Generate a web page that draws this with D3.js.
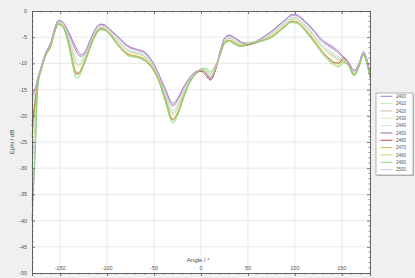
<!DOCTYPE html>
<html>
<head>
<meta charset="utf-8">
<script src="https://cdn.jsdelivr.net/npm/d3@7"></script>
<style>
  body { margin: 0; background: #f0f0f0; }
  svg { display: block; font-family: "Liberation Sans", Arial, sans-serif; }
</style>
</head>
<body>
<svg id="chart"></svg>
<script>
// angle samples (deg)
const angles = [-180,-177,-174,-170,-165,-160,-156,-152,-148,-144,-140,-136,-133,-130,-127,-123,-119,-115,-111,-107,
  -103,-97,-90,-76,-68,-60,-52,-45,-38,-30,-24,-18,-12,-6,0,5,10,15,20,25,
  30,36,42,50,66,74,90,96,100,105,112,120,128,135,142,147,152,157,163,168,173,177,180];

// Ephi (dB) per frequency
const e2400 = [-40,-28,-14.5,-10.5,-7.8,-6.0,-3.4,-1.8,-2.0,-2.9,-4.3,-5.9,-7.0,-7.9,-8.3,-7.6,-5.9,-4.3,-3.0,-2.5,
  -2.6,-3.5,-4.6,-6.8,-7.3,-7.8,-9.6,-12.0,-14.8,-17.6,-16.4,-14.3,-12.7,-11.6,-11.3,-11.9,-13.0,-11.4,-7.9,-5.2,
  -4.6,-5.1,-5.8,-6.2,-5.0,-4.0,-1.6,-0.7,-0.6,-1.0,-2.1,-3.6,-5.3,-6.2,-7.0,-7.8,-8.8,-9.7,-11.3,-10.1,-7.8,-9.4,-11.8];
const e2410 = [-37,-27,-14.8,-10.7,-8.0,-6.3,-3.7,-2.1,-2.3,-3.4,-5.4,-7.7,-9.0,-9.5,-9.4,-8.3,-6.5,-4.8,-3.5,-2.9,
  -3.0,-3.9,-5.2,-7.5,-7.9,-8.4,-10.1,-12.5,-15.7,-18.9,-17.5,-15.0,-13.1,-11.8,-11.2,-11.4,-12.3,-11.0,-8.1,-5.6,
  -5.0,-5.6,-6.2,-6.1,-5.2,-4.4,-2.1,-1.2,-1.2,-1.6,-2.8,-4.4,-6.2,-7.3,-8.2,-8.8,-9.3,-10.0,-11.7,-10.3,-8.0,-9.7,-12.1];
const e2420 = [-21,-17,-13.2,-10.9,-8.1,-6.4,-3.8,-2.2,-2.5,-3.7,-5.9,-8.5,-9.9,-10.3,-9.9,-8.6,-6.8,-5.0,-3.7,-3.1,
  -3.2,-4.1,-5.5,-7.8,-8.1,-8.7,-10.3,-12.7,-16.1,-19.5,-18.0,-15.4,-13.2,-11.9,-11.4,-11.6,-12.6,-11.2,-8.3,-5.8,
  -5.2,-5.8,-6.3,-6.3,-5.4,-4.6,-2.3,-1.5,-1.5,-1.9,-3.1,-4.8,-6.6,-7.8,-8.7,-9.3,-9.5,-10.1,-11.9,-10.4,-8.1,-9.8,-12.3];
const e2430 = [-25,-19,-13.6,-10.9,-8.2,-6.5,-3.9,-2.3,-2.5,-3.8,-6.2,-9.0,-10.5,-10.7,-10.2,-8.8,-6.9,-5.1,-3.8,-3.2,
  -3.3,-4.2,-5.6,-7.9,-8.3,-8.9,-10.4,-12.8,-16.3,-19.9,-18.3,-15.6,-13.3,-12.0,-11.3,-11.3,-12.1,-10.9,-8.3,-5.9,
  -5.3,-5.9,-6.4,-6.0,-5.4,-4.7,-2.4,-1.6,-1.6,-2.0,-3.3,-5.0,-6.9,-8.1,-9.0,-9.5,-9.6,-10.2,-12.0,-10.5,-8.2,-9.9,-12.4];
const e2440 = [-18,-16,-13.0,-10.8,-8.1,-6.4,-3.8,-2.2,-2.4,-3.6,-5.7,-8.2,-9.6,-10.0,-9.7,-8.5,-6.7,-4.9,-3.6,-3.0,
  -3.1,-4.0,-5.4,-7.7,-8.0,-8.6,-10.2,-12.6,-15.9,-19.3,-17.8,-15.2,-13.2,-11.9,-11.2,-11.5,-12.4,-11.1,-8.2,-5.7,
  -5.1,-5.7,-6.3,-6.2,-5.3,-4.5,-2.2,-1.4,-1.4,-1.8,-3.0,-4.6,-6.5,-7.6,-8.5,-9.1,-9.4,-10.0,-11.8,-10.4,-8.1,-9.8,-12.3];
const e2450 = [-16,-15,-12.8,-10.6,-7.9,-6.1,-3.5,-1.9,-2.1,-3.1,-4.6,-6.4,-7.6,-8.4,-8.6,-7.8,-6.1,-4.4,-3.1,-2.6,
  -2.7,-3.6,-4.8,-7.0,-7.5,-8.0,-9.7,-12.1,-15.1,-18.0,-16.7,-14.5,-12.8,-11.7,-11.4,-11.8,-12.9,-11.4,-8.0,-5.3,
  -4.7,-5.2,-5.9,-6.4,-5.1,-4.1,-1.7,-0.9,-0.8,-1.2,-2.3,-3.8,-5.6,-6.5,-7.3,-8.1,-9.0,-9.8,-11.4,-10.2,-7.9,-9.5,-11.9];
const e2460 = [-22,-18,-13.8,-11.1,-8.3,-6.7,-4.1,-2.5,-2.8,-4.2,-6.9,-10.2,-11.9,-11.9,-10.9,-9.3,-7.3,-5.5,-4.1,-3.4,
  -3.5,-4.4,-6.0,-8.4,-8.7,-9.3,-10.8,-13.2,-16.9,-20.8,-19.1,-16.1,-13.6,-12.1,-11.5,-12.3,-13.2,-11.5,-8.5,-6.1,
  -5.6,-6.2,-6.7,-6.5,-5.6,-5.0,-2.8,-2.0,-2.0,-2.4,-3.8,-5.6,-7.5,-8.9,-9.9,-9.9,-8.9,-9.9,-12.2,-10.7,-8.4,-10.1,-12.7];
const e2470 = [-24,-18.5,-13.9,-11.1,-8.3,-6.6,-4.0,-2.4,-2.7,-4.1,-6.8,-10.0,-11.6,-11.7,-10.8,-9.2,-7.3,-5.4,-4.0,-3.4,
  -3.5,-4.4,-6.0,-8.3,-8.6,-9.2,-10.7,-13.1,-16.8,-20.6,-19.0,-16.0,-13.5,-12.1,-11.3,-11.9,-12.8,-11.2,-8.5,-6.1,
  -5.6,-6.1,-6.6,-6.3,-5.6,-5.0,-2.7,-1.9,-2.0,-2.4,-3.7,-5.4,-7.4,-8.8,-9.7,-10.1,-9.5,-10.2,-12.2,-10.6,-8.3,-10.0,-12.6];
const e2480 = [-30,-22,-14.2,-11.1,-8.3,-6.7,-4.1,-2.5,-2.8,-4.3,-7.1,-10.5,-12.2,-12.1,-11.1,-9.4,-7.4,-5.6,-4.2,-3.5,
  -3.6,-4.5,-6.1,-8.5,-8.7,-9.4,-10.9,-13.3,-17.1,-21.0,-19.3,-16.2,-13.6,-12.1,-11.2,-11.2,-11.9,-10.7,-8.5,-6.2,
  -5.7,-6.3,-6.7,-6.2,-5.6,-5.1,-2.9,-2.1,-2.1,-2.5,-3.9,-5.7,-7.6,-9.1,-10.1,-10.4,-9.8,-10.3,-12.3,-10.7,-8.4,-10.1,-12.7];
const e2490 = [-36,-29,-15.0,-11.2,-8.4,-6.8,-4.2,-2.6,-2.9,-4.4,-7.4,-11.0,-12.8,-12.6,-11.4,-9.6,-7.6,-5.7,-4.3,-3.6,
  -3.7,-4.6,-6.3,-8.7,-8.9,-9.6,-11.0,-13.4,-17.3,-21.4,-19.6,-16.4,-13.7,-12.2,-11.0,-10.9,-11.6,-10.5,-8.6,-6.3,
  -5.8,-6.4,-6.8,-6.4,-5.7,-5.2,-3.0,-2.2,-2.3,-2.7,-4.1,-5.9,-7.9,-9.4,-10.4,-10.7,-9.9,-10.4,-12.4,-10.8,-8.5,-10.2,-12.8];
const e2500 = [-17,-15.5,-12.9,-10.6,-7.9,-6.1,-3.5,-1.9,-2.1,-3.1,-4.8,-6.7,-7.9,-8.6,-8.8,-7.9,-6.2,-4.5,-3.2,-2.7,
  -2.8,-3.7,-4.9,-7.1,-7.5,-8.1,-9.8,-12.2,-15.2,-18.2,-16.9,-14.6,-12.9,-11.7,-11.2,-11.7,-12.7,-11.3,-8.0,-5.4,
  -4.8,-5.3,-6.0,-6.1,-5.1,-4.2,-1.8,-0.9,-0.9,-1.3,-2.4,-3.9,-5.7,-6.7,-7.5,-8.2,-9.1,-9.8,-11.5,-10.2,-7.9,-9.5,-12.0];

const freqs = ["2400","2410","2420","2430","2440","2450","2460","2470","2480","2490","2500"];
const seriesVals = [e2400,e2410,e2420,e2430,e2440,e2450,e2460,e2470,e2480,e2490,e2500];
const colors = ["#9a6cc9","#b5e6b5","#cfb08e","#d9e6a0","#bfe4e4","#9a5aa8","#a83c3c","#c4b03a","#b4dc5a","#78d478","#d2b9e0"];

const xTicks = [-150,-100,-50,0,50,100,150];
const yTicks = [0,-5,-10,-15,-20,-25,-30,-35,-40,-45,-50];

const W = 415, H = 278;
const margin = { top: 11, right: 45, bottom: 5, left: 32 };
const width = W - margin.left - margin.right,
      height = H - margin.top - margin.bottom;

const svg = d3.select("#chart").attr("width", W).attr("height", H);
svg.append("rect").attr("width", W).attr("height", H).attr("fill", "#f0f0f0");

const g = svg.append("g").attr("transform", `translate(${margin.left},${margin.top})`);

const x = d3.scaleLinear().domain([-180, 180]).range([0, width]);
const y = d3.scaleLinear().domain([-50, 0]).range([height, 0]);

g.append("rect").attr("width", width).attr("height", height).attr("fill", "#fff");

// grid
g.append("g").selectAll("line").data(xTicks).join("line")
  .attr("x1", d => x(d)).attr("x2", d => x(d)).attr("y1", 0).attr("y2", height)
  .attr("stroke", "#e3e3e3").attr("stroke-width", 0.8);
g.append("g").selectAll("line").data(yTicks.slice(1, -1)).join("line")
  .attr("y1", d => y(d)).attr("y2", d => y(d)).attr("x1", 0).attr("x2", width)
  .attr("stroke", "#e3e3e3").attr("stroke-width", 0.8);

// curves
const line = d3.line()
  .x((d, i) => x(angles[i]))
  .y(d => y(d))
  .curve(d3.curveMonotoneX);

g.append("g").selectAll("path").data(seriesVals).join("path")
  .attr("d", d => line(d))
  .attr("fill", "none")
  .attr("stroke", (d, i) => colors[i])
  .attr("stroke-width", 0.8);

// axes (box with minor ticks)
const axisCol = "#555";
const minorX = d3.range(-170, 180, 10);
const minorY = d3.range(-49, 0, 1);

const axBottom = g.append("g").attr("transform", `translate(0,${height})`)
  .call(d3.axisBottom(x).tickValues(xTicks).tickSize(3).tickFormat(""));
const axTop = g.append("g")
  .call(d3.axisBottom(x).tickValues(xTicks).tickSize(3).tickFormat(""));
const axLeft = g.append("g")
  .call(d3.axisRight(y).tickValues(yTicks.slice(1, -1)).tickSize(3).tickFormat(""));
const axRight = g.append("g").attr("transform", `translate(${width},0)`)
  .call(d3.axisLeft(y).tickValues(yTicks.slice(1, -1)).tickSize(3).tickFormat(""));

// minor ticks
g.append("g").selectAll("line").data(minorX.filter(d => d % 50 !== 0)).join("line")
  .attr("x1", d => x(d)).attr("x2", d => x(d)).attr("y1", height).attr("y2", height + 1.5)
  .attr("stroke", axisCol).attr("stroke-width", 0.7);
g.append("g").selectAll("line").data(minorX.filter(d => d % 50 !== 0)).join("line")
  .attr("x1", d => x(d)).attr("x2", d => x(d)).attr("y1", 0).attr("y2", 1.5)
  .attr("stroke", axisCol).attr("stroke-width", 0.7);
g.append("g").selectAll("line").data(minorY.filter(d => d % 5 !== 0)).join("line")
  .attr("y1", d => y(d)).attr("y2", d => y(d)).attr("x1", 0).attr("x2", 1.5)
  .attr("stroke", axisCol).attr("stroke-width", 0.7);
g.append("g").selectAll("line").data(minorY.filter(d => d % 5 !== 0)).join("line")
  .attr("y1", d => y(d)).attr("y2", d => y(d)).attr("x1", width).attr("x2", width - 1.5)
  .attr("stroke", axisCol).attr("stroke-width", 0.7);

[axBottom, axTop, axLeft, axRight].forEach(a => {
  a.select(".domain").attr("stroke", axisCol).attr("stroke-width", 0.9);
  a.selectAll(".tick line").attr("stroke", axisCol).attr("stroke-width", 0.8);
});

// tick labels
g.append("g").selectAll("text").data(yTicks).join("text")
  .attr("x", -5).attr("y", d => y(d) + 2)
  .attr("text-anchor", "end")
  .attr("font-size", 5.5).attr("fill", "#555")
  .text(d => d);
g.append("g").selectAll("text").data(xTicks).join("text")
  .attr("x", d => x(d)).attr("y", height - 3)
  .attr("text-anchor", "middle")
  .attr("font-size", 5.5).attr("fill", "#555")
  .text(d => d);

// axis titles
g.append("text")
  .attr("x", x(-3)).attr("y", height - 11)
  .attr("text-anchor", "middle")
  .attr("font-size", 6).attr("fill", "#444")
  .text("Angle / °");
g.append("text")
  .attr("transform", `translate(-18,${height / 2}) rotate(-90)`)
  .attr("text-anchor", "middle")
  .attr("font-size", 6).attr("fill", "#444")
  .text("Ephi / dB");

// legend
const lg = svg.append("g").attr("transform", "translate(376,93)");
lg.append("rect").attr("x", 1).attr("y", 1).attr("width", 37).attr("height", 82).attr("fill", "#bbb");
lg.append("rect").attr("width", 37).attr("height", 82)
  .attr("fill", "#fff").attr("stroke", "#999").attr("stroke-width", 0.7);
const items = lg.selectAll("g.item").data(freqs).join("g")
  .attr("class", "item")
  .attr("transform", (d, i) => `translate(0,${3.3 + i * 7.33})`);
items.append("line").attr("x1", 4.5).attr("x2", 16.5)
  .attr("stroke", (d, i) => colors[i]).attr("stroke-width", 0.9);
items.append("text").attr("x", 20).attr("y", 1.6)
  .attr("font-size", 4.5).attr("fill", "#555")
  .text(d => d);
</script>
</body>
</html>
